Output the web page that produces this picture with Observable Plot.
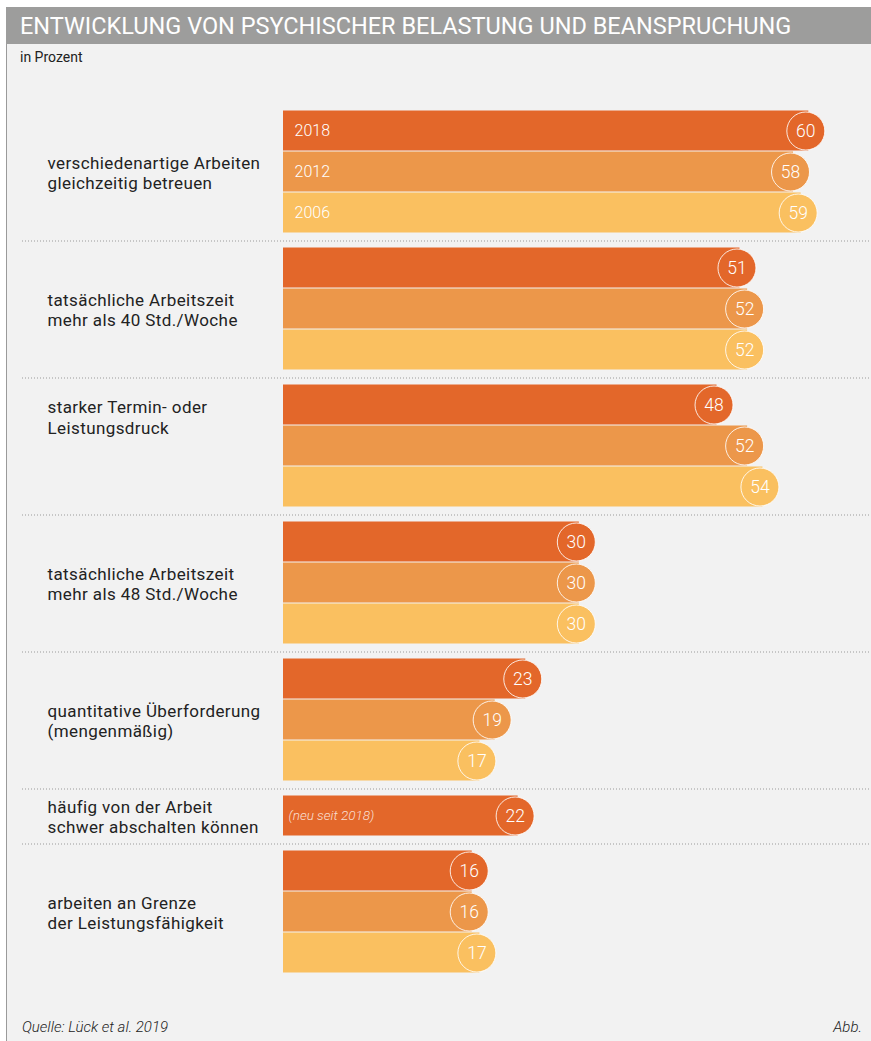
<!DOCTYPE html>
<html><head><meta charset="utf-8">
<script src="https://cdn.jsdelivr.net/npm/d3@7"></script>
<script src="https://cdn.jsdelivr.net/npm/@observablehq/plot@0.6"></script>
<style>
body{margin:0;background:#fff;font-family:"Open Sans",sans-serif;}
#page{position:relative;width:871px;height:1041px;overflow:hidden;}
#titlebar{position:absolute;left:6px;top:7px;width:865px;height:37px;background:#9d9d9c;}
#title{position:absolute;left:14px;top:4px;color:#fff;font-family:Roboto,sans-serif;font-size:23.5px;line-height:30px;white-space:nowrap;}
#panel{position:absolute;left:6px;top:44px;width:865px;height:997px;background:#f2f2f2;border-left:1px solid #9a9a9a;}
#sub{position:absolute;left:20px;top:49px;font-family:Roboto,sans-serif;font-size:14px;color:#222;}
#chart{position:absolute;left:0;top:70px;}
#source{position:absolute;left:22px;top:1018px;font-family:Roboto,sans-serif;font-weight:300;font-style:italic;font-size:15px;color:#222;}
#abb{position:absolute;right:9px;top:1018px;font-family:Roboto,sans-serif;font-weight:300;font-style:italic;font-size:15px;color:#222;}
.catlabel text{letter-spacing:0.4px;}
</style></head>
<body>
<div id="page">
  <div id="titlebar"><div id="title">ENTWICKLUNG VON PSYCHISCHER BELASTUNG UND BEANSPRUCHUNG</div></div>
  <div id="panel"></div>
  <div id="sub">in Prozent</div>
  <div id="chart"></div>
  <div id="source">Quelle: Lück et al. 2019</div>
  <div id="abb">Abb.</div>
</div>
<script>
// ---- data ----
const categories = [
  "verschiedenartige Arbeiten\ngleichzeitig betreuen",
  "tatsächliche Arbeitszeit\nmehr als 40 Std./Woche",
  "starker Termin- oder\nLeistungsdruck",
  "tatsächliche Arbeitszeit\nmehr als 48 Std./Woche",
  "quantitative Überforderung\n(mengenmäßig)",
  "häufig von der Arbeit\nschwer abschalten können",
  "arbeiten an Grenze\nder Leistungsfähigkeit"
];
const years = ["2018", "2012", "2006"];
const values2018 = [60, 51, 48, 30, 23, 22, 16];
const values2012 = [58, 52, 52, 30, 19, null, 16];
const values2006 = [59, 52, 54, 30, 17, null, 17];
const notes = [null, null, null, null, null, "(neu seit 2018)", null];
const colors = ["#e3672a", "#ec974a", "#fac060"];

// ---- layout ----
const baseline = -8.67;          // value where bars start
const gap = 14 / 41;             // gap between groups, in row units
const labelPos = [1.5, 1.5, 0.78, 1.5, 1.5, 0.5, 1.5]; // label anchor within group, in row units

const series = [values2018, values2012, values2006];
const rows = [];
const groups = [];
let pos = 0;
categories.forEach((c, i) => {
  const start = pos;
  series.forEach((vals, j) => {
    const v = vals[i];
    if (v == null) return;
    rows.push({cat: i, year: years[j], value: v, top: pos, note: notes[i]});
    pos += 1;
  });
  groups.push({label: c, start, ly: start + labelPos[i]});
  pos += gap;
});
const separators = groups.slice(1).map(g => g.start - gap / 2);

const chart = Plot.plot({
  width: 871,
  height: 930,
  margin: 0,
  style: {background: "transparent", fontFamily: "Roboto, sans-serif"},
  x: {domain: [baseline - 283 / 7.65, baseline + (871 - 283) / 7.65], range: [0, 871], axis: null},
  y: {domain: [0, 1], range: [40.5, 81.5], axis: null},
  color: {domain: years, range: colors},
  marks: [
    Plot.ruleY(separators, {y: d => d, stroke: "#9a9a9a", strokeDasharray: "1,2", strokeWidth: 1, insetLeft: 22}),
    Plot.rectX(rows, {x1: () => baseline, x2: "value", y1: "top", y2: d => d.top + 40 / 41, fill: "year"}),
    Plot.text(rows.filter(d => d.cat === 0), {x: () => baseline, y: d => d.top + 20 / 41, text: "year", textAnchor: "start", dx: 11, fill: "white", fontSize: 16, fontWeight: 300}),
    Plot.text(rows.filter(d => d.note), {x: () => baseline, y: d => d.top + 20 / 41, text: "note", textAnchor: "start", dx: 5, fill: "white", fillOpacity: 0.8, fontSize: 13.5, fontWeight: 300, fontStyle: "italic"}),
    Plot.dot(rows, {x: "value", y: d => d.top + 20 / 41, r: 19, fill: "year", stroke: "white", strokeOpacity: 0.85, strokeWidth: 1, dx: -3}),
    Plot.text(rows, {x: "value", y: d => d.top + 20 / 41, text: d => String(d.value), fill: "white", fontSize: 17.5, fontWeight: 300, dx: -3}),
    Plot.text(groups, {frameAnchor: "left", dx: 47, y: "ly", text: "label", textAnchor: "start", lineAnchor: "middle", lineHeight: 1.2, fontSize: 17, fill: "#222", className: "catlabel"})
  ]
});
document.getElementById("chart").appendChild(chart);
</script>
</body></html>
